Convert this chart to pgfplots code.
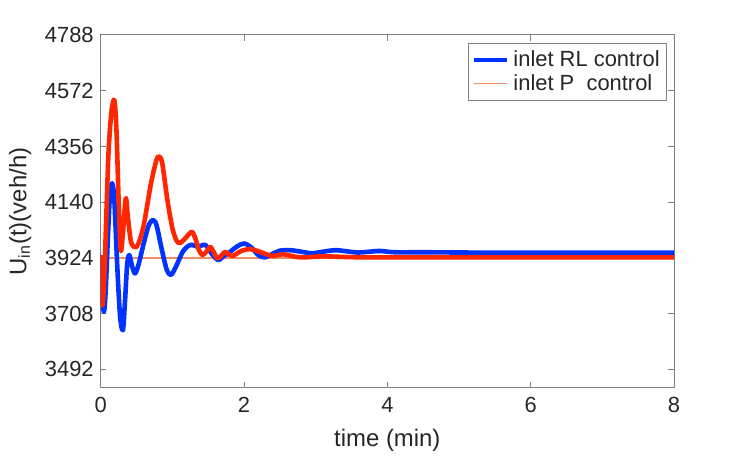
\documentclass[border=0pt]{standalone}
\usepackage{pgfplots}
\pgfplotsset{compat=1.18}
\usepackage{fontspec}
\setmainfont{Liberation Sans}

\definecolor{rlblue}{RGB}{0,51,255}
\definecolor{pred}{RGB}{255,38,0}
\definecolor{salmon}{RGB}{245,140,100}
\definecolor{txtgray}{RGB}{38,38,38}
\definecolor{axgray}{RGB}{128,128,128}

\begin{document}
\begin{tikzpicture}
\begin{axis}[
    scale only axis,
    width=286.7bp, height=176.5bp,
    xmin=0, xmax=8,
    ymin=3420, ymax=4788,
    xtick={0,2,...,8},
    ytick={3492,3708,3924,4140,4356,4572,4788},
    /pgf/number format/assume math mode=true,
    /pgf/number format/1000 sep={},
    tick align=inside,
    major tick length=2.8bp,
    axis line style={axgray, line width=0.5bp},
    tick style={axgray, line width=0.5bp},
    ticklabel style={font=\fontsize{11}{13}\selectfont, text=txtgray},
    xticklabel style={yshift=-1.2bp},
    label style={font=\fontsize{12}{14}\selectfont, text=txtgray},
    xlabel style={yshift=-1.5bp},
    xlabel={time (min)},
    ylabel={U\textsubscript{in}(t)(veh/h)},
    legend style={at={(0.988,0.977)}, anchor=north east,
        draw=axgray, line width=0.5bp,
        font=\fontsize{11}{13}\selectfont, text=txtgray,
        row sep=-1.5bp, inner sep=1.5bp},
    legend cell align=left,
    legend image code/.code={\draw[#1] (0cm,0cm) -- (16.5bp,0cm);},
]
% desired inflow level
\addplot[salmon, line width=0.6bp, forget plot] coordinates {(0,3924)(8,3924)};

\addplot[rlblue, line width=2.3bp, line join=round, smooth, tension=0.5] coordinates {
(0,3935)(0.02,3780)(0.046,3715)(0.07,3800)(0.1,4000)(0.13,4170)(0.16,4213)
(0.19,4150)(0.23,3900)(0.27,3700)(0.31,3644)(0.34,3760)(0.37,3900)(0.40,3935)
(0.44,3890)(0.48,3864)(0.53,3900)(0.6,3980)(0.67,4050)(0.73,4071)(0.78,4050)
(0.85,3960)(0.92,3880)(0.98,3858)(1.05,3890)(1.15,3950)(1.25,3974)(1.36,3968)
(1.46,3974)(1.55,3940)(1.64,3916)(1.72,3932)(1.78,3942)(1.9,3968)(2.0,3980)
(2.1,3965)(2.2,3935)(2.29,3926)(2.4,3940)(2.5,3952)(2.64,3954)(2.8,3948)
(2.95,3942)(3.1,3948)(3.27,3954)(3.42,3950)(3.58,3945)(3.75,3948)(3.9,3951)
(4.1,3946)(4.5,3946)(5,3945)(6,3944)(8,3944)
};
\addlegendentry{inlet RL control}
\addlegendimage{salmon, line width=0.6bp}
\addlegendentry{inlet P~ control}

\addplot[pred, line width=2.3bp, line join=round, smooth, tension=0.5, forget plot] coordinates {
(0,3935)(0.008,3790)(0.025,3741)(0.05,3850)(0.08,4100)(0.11,4336)(0.15,4490)
(0.19,4536)(0.22,4420)(0.25,4150)(0.28,3954)(0.31,4020)(0.35,4155)(0.38,4080)
(0.42,3990)(0.465,3967)(0.52,3975)(0.6,4050)(0.7,4210)(0.78,4305)(0.82,4316)
(0.86,4290)(0.93,4150)(1.0,4040)(1.06,3990)(1.11,3982)(1.18,4000)(1.27,4025)
(1.32,4000)(1.37,3955)(1.42,3935)(1.48,3950)(1.53,3967)(1.58,3945)(1.63,3922)
(1.69,3935)(1.74,3948)(1.8,3935)(1.85,3932)(1.92,3945)(1.97,3952)(2.08,3958)
(2.2,3950)(2.39,3932)(2.55,3938)(2.78,3926)(3.1,3930)(3.5,3927)(4,3926)(8,3926)
};
\end{axis}
\path (current axis.south west) ++(-50.35bp,-32bp) rectangle ([shift={(36.5bp,17.5bp)}]current axis.north east);
\end{tikzpicture}
\end{document}
